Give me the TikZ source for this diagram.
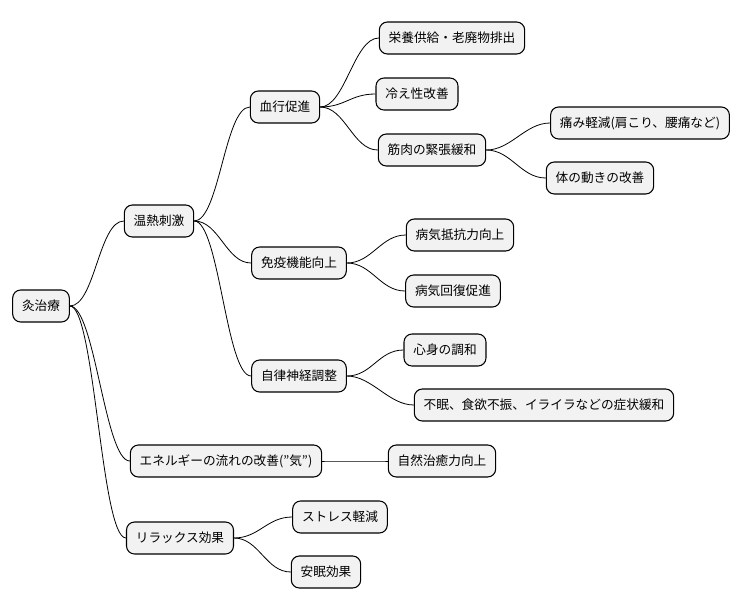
\documentclass[tikz,border=0pt]{standalone}
\usepackage{fontspec}
\setmainfont{Noto Sans CJK JP}
\begin{document}
\begin{tikzpicture}[x=0.75pt,y=-0.75pt,
  box/.style={draw=black,line width=0.8pt,fill=gray!10,rounded corners=6pt,minimum height=24pt,inner xsep=7pt,font=\fontsize{9.5pt}{11pt}\selectfont},
  ed/.style={draw=black,line width=0.6pt}]
\useasboundingbox (0,0) rectangle (751,612);
\node[box] (r) at (41,306) {灸治療};
\node[box] (a) at (159,221) {温熱刺激};
\node[box] (a1) at (285,107) {血行促進};
\node[box] (a11) at (452,38) {栄養供給・老廃物排出};
\node[box] (a12) at (417,94) {冷え性改善};
\node[box] (a13) at (432,150) {筋肉の緊張緩和};
\node[box] (a131) at (640,123) {痛み軽減(肩こり、腰痛など)};
\node[box] (a132) at (600,178) {体の動きの改善};
\node[box] (a2) at (299,263) {免疫機能向上};
\node[box] (a21) at (460,235) {病気抵抗力向上};
\node[box] (a22) at (453,291) {病気回復促進};
\node[box] (a3) at (299,376) {自律神経調整};
\node[box] (a31) at (445,350) {心身の調和};
\node[box] (a32) at (544,405) {不眠、食欲不振、イライラなどの症状緩和};
\node[box] (b) at (226,461) {エネルギーの流れの改善("気")};
\node[box] (b1) at (442,461) {自然治癒力向上};
\node[box] (c) at (180,538) {リラックス効果};
\node[box] (c1) at (340,517) {ストレス軽減};
\node[box] (c2) at (326,572) {安眠効果};
\foreach \p/\c in {r/a,r/b,r/c,a/a1,a/a2,a/a3,a1/a11,a1/a12,a1/a13,a13/a131,a13/a132,a2/a21,a2/a22,a3/a31,a3/a32,b/b1,c/c1,c/c2}
  \draw[ed] (\p.east) .. controls +(25,0) and +(-25,0) .. (\c.west);
\end{tikzpicture}
\end{document}
